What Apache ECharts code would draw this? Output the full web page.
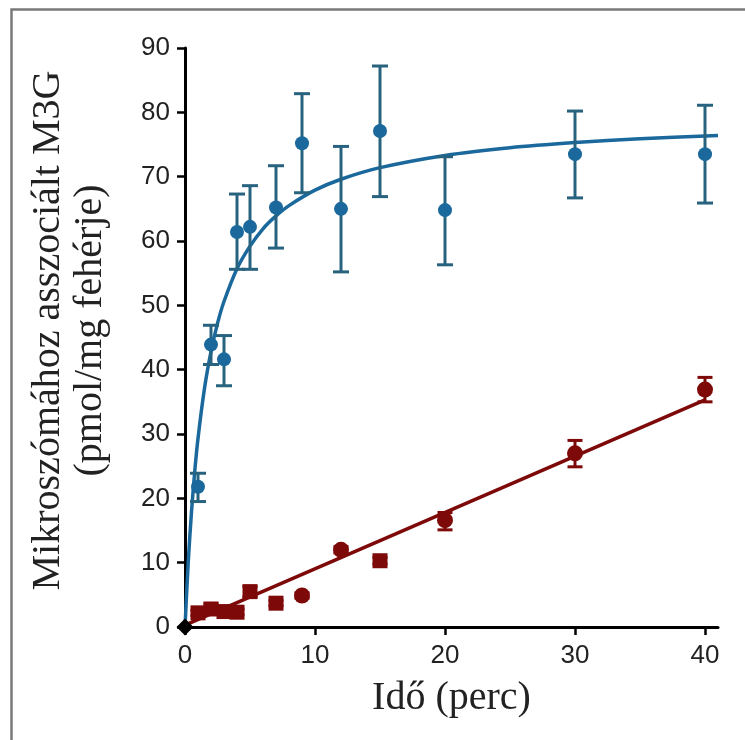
<!DOCTYPE html>
<html>
<head>
<meta charset="utf-8">
<script src="https://cdn.jsdelivr.net/npm/echarts@6/dist/echarts.min.js"></script>
<style>
html,body{margin:0;padding:0;background:#fff;}
#chart{width:745px;height:740px;}
</style>
</head>
<body>
<div id="chart"></div>
<script>
// ---- data ----
var xTicks = [0, 10, 20, 30, 40];
var yTicks = [0, 10, 20, 30, 40, 50, 60, 70, 80, 90];

// blue series (circles, mean with error range)
var blueTime = [1, 2, 3, 4, 5, 7, 9, 12, 15, 20, 30, 40];
var blueMean = [21.8, 43.9, 41.6, 61.4, 62.2, 65.2, 75.2, 65.0, 77.1, 64.8, 73.5, 73.5];
var blueLow  = [19.5, 40.8, 37.5, 55.6, 55.6, 58.9, 67.5, 55.2, 66.9, 56.3, 66.7, 65.9];
var blueHigh = [23.9, 46.9, 45.3, 67.3, 68.6, 71.7, 82.9, 74.7, 87.2, 73.1, 80.2, 81.1];

// blue fitted curve
var blueCurveTime = [0, 0.25, 0.5, 0.75, 1, 1.5, 2, 2.5, 3, 4, 5, 6, 7, 8, 10, 12, 15, 20, 25, 30, 35, 41];
var blueCurveVal  = [0, 10.1, 17.9, 24.2, 29.3, 37.1, 42.8, 47.2, 50.6, 55.7, 59.2, 61.9, 63.9, 65.5, 67.9, 69.6, 71.4, 73.3, 74.5, 75.3, 75.9, 76.4];

// red series, squares
var redSqTime = [1, 2, 3, 4, 5, 7, 15];
var redSqMean = [2.2, 2.8, 2.4, 2.3, 5.5, 3.7, 10.3];
var redSqLow  = [1.8, 2.1, 2.0, 1.9, 4.7, 3.3, 9.8];
var redSqHigh = [2.6, 3.6, 2.8, 2.8, 6.3, 4.1, 10.8];

// red series, circles
var redCiTime = [9, 12, 20, 30, 40];
var redCiMean = [4.9, 12.0, 16.6, 27.0, 36.9];
var redCiLow  = [4.5, 11.5, 15.1, 24.9, 35.0];
var redCiHigh = [5.3, 12.5, 17.8, 29.0, 38.8];

// red fitted line
var redLineTime = [0, 40];
var redLineVal  = [0.3, 35.3];

// origin point
var originTime = [0];
var originVal = [0];

var xTitle = 'Idő (perc)';
var yTitle = 'Mikroszómához asszociált M3G\n(pmol/mg fehérje)';

// ---- build ----
function zip2(a, b) { return a.map(function (v, i) { return [v, b[i]]; }); }
function zip3(a, b, c) { return a.map(function (v, i) { return [v, b[i], c[i]]; }); }

var BLUE = '#1a689c', BLUE_ERR = '#27627f', RED = '#7d0909';

function errRender(color, cap) {
  return function (params, api) {
    var x = api.value(0), lo = api.value(1), hi = api.value(2);
    var p1 = api.coord([x, lo]), p2 = api.coord([x, hi]);
    var h = cap / 2;
    var st = { stroke: color, lineWidth: 3 };
    return {
      type: 'group',
      children: [
        { type: 'line', shape: { x1: p1[0], y1: p1[1], x2: p2[0], y2: p2[1] }, style: st },
        { type: 'line', shape: { x1: p1[0] - h, y1: p1[1], x2: p1[0] + h, y2: p1[1] }, style: st },
        { type: 'line', shape: { x1: p2[0] - h, y1: p2[1], x2: p2[0] + h, y2: p2[1] }, style: st }
      ]
    };
  };
}

var chart = echarts.init(document.getElementById('chart'), null, { renderer: 'canvas' });
chart.setOption({
  backgroundColor: '#ffffff',
  animation: false,
  graphic: [{
    type: 'rect', left: 9, top: 7, z: 100, silent: true,
    shape: { width: 800, height: 800 },
    style: { fill: 'none', stroke: '#7a7a7a', lineWidth: 2.5 }
  }],
  grid: { left: 185, right: 27, top: 48, bottom: 113 },
  xAxis: {
    type: 'value', min: 0, max: 41,
    name: xTitle, nameLocation: 'middle', nameGap: 51,
    nameTextStyle: { fontFamily: 'Liberation Serif', fontSize: 40, color: '#222' },
    axisLine: { show: true, onZero: false, lineStyle: { color: '#000', width: 3 } },
    axisTick: { show: true, inside: false, length: 8, customValues: xTicks, lineStyle: { color: '#000', width: 2.5 } },
    axisLabel: { customValues: xTicks, margin: 16, fontFamily: 'Liberation Sans', fontSize: 26, color: '#222' },
    splitLine: { show: false }
  },
  yAxis: {
    type: 'value', min: 0, max: 90, interval: 10,
    name: yTitle, nameLocation: 'middle', nameGap: 74, nameRotate: 90,
    nameTextStyle: { fontFamily: 'Liberation Serif', fontSize: 40, lineHeight: 42, color: '#222', align: 'center', padding: [0, 0, 0, 14] },
    axisLine: { show: true, onZero: false, lineStyle: { color: '#000', width: 3 } },
    axisTick: { show: true, inside: false, length: 8, customValues: yTicks, lineStyle: { color: '#000', width: 2.5 } },
    axisLabel: { customValues: yTicks, margin: 15, fontFamily: 'Liberation Sans', fontSize: 26, color: '#222' },
    splitLine: { show: false }
  },
  series: [
    {
      type: 'line', data: zip2(blueCurveTime, blueCurveVal), smooth: 0.3, symbol: 'none',
      lineStyle: { color: BLUE, width: 3.5 }, z: 2
    },
    {
      type: 'line', data: zip2(redLineTime, redLineVal), symbol: 'none',
      lineStyle: { color: RED, width: 3.5 }, z: 2
    },
    {
      type: 'custom', data: zip3(blueTime, blueLow, blueHigh), renderItem: errRender(BLUE_ERR, 16), z: 3
    },
    {
      type: 'custom', data: zip3(redSqTime, redSqLow, redSqHigh), renderItem: errRender(RED, 15), z: 3
    },
    {
      type: 'custom', data: zip3(redCiTime, redCiLow, redCiHigh), renderItem: errRender(RED, 15), z: 3
    },
    {
      type: 'scatter', data: zip2(blueTime, blueMean), symbol: 'circle', symbolSize: 14,
      itemStyle: { color: BLUE, opacity: 1 }, z: 4
    },
    {
      type: 'scatter', data: zip2(redSqTime, redSqMean), symbol: 'rect', symbolSize: 15,
      itemStyle: { color: RED, opacity: 1 }, z: 4
    },
    {
      type: 'scatter', data: zip2(redCiTime, redCiMean), symbol: 'circle', symbolSize: 16,
      itemStyle: { color: RED, opacity: 1 }, z: 4
    },
    {
      type: 'scatter', data: zip2(originTime, originVal), symbol: 'diamond', symbolSize: 17,
      itemStyle: { color: '#000', opacity: 1 }, z: 5, clip: false
    }
  ]
});
</script>
</body>
</html>
